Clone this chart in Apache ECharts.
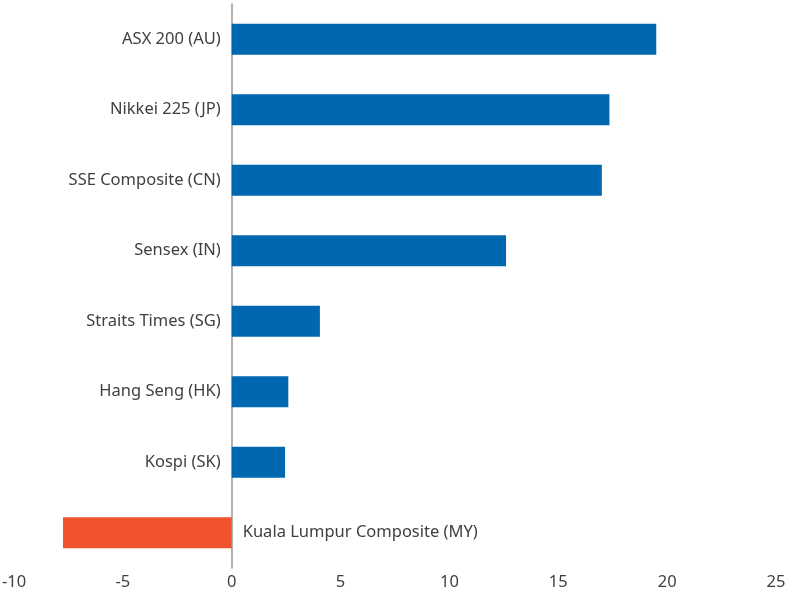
<!DOCTYPE html>
<html>
<head>
<meta charset="utf-8">
<script src="https://cdn.jsdelivr.net/npm/echarts@6/dist/echarts.min.js"></script>
<style>html,body{margin:0;padding:0;background:#fff}#c{width:787px;height:592px}</style>
</head>
<body>
<div id="c"></div>
<script>
const categories = ["ASX 200 (AU)", "Nikkei 225 (JP)", "SSE Composite (CN)", "Sensex (IN)", "Straits Times (SG)", "Hang Seng (HK)", "Kospi (SK)", "Kuala Lumpur Composite (MY)"];
const values = [19.5, 17.35, 17.0, 12.6, 4.05, 2.6, 2.45, -7.75];
const xTicks = { min: -10, max: 25, interval: 5 };

const FONT = "Noto Sans";
const FS = 16.5;
const TXT = '#3f3f3f';
const chart = echarts.init(document.getElementById('c'));
chart.setOption({
  animation: false,
  grid: { left: 14, right: 11, top: 4, bottom: 24, containLabel: false, outerBoundsMode: 'none' },
  xAxis: {
    type: 'value', min: xTicks.min, max: xTicks.max, interval: xTicks.interval,
    axisLine: { show: false }, axisTick: { show: false }, splitLine: { show: false },
    axisLabel: { color: TXT, fontFamily: FONT, fontSize: FS, margin: 6 }
  },
  yAxis: {
    type: 'category', inverse: true, data: categories,
    axisLine: { show: true, onZero: true, lineStyle: { color: '#999', width: 1.5 } },
    axisTick: { show: false },
    axisLabel: { show: false }
  },
  series: [{
    type: 'bar', barWidth: '44%',
    data: values.map(function (v, i) {
      return {
        value: v,
        itemStyle: { color: v < 0 ? '#F0532E' : '#0067B1' },
        label: { show: true, position: v < 0 ? 'right' : 'left', distance: 11, formatter: categories[i], color: TXT, fontFamily: FONT, fontSize: FS }
      };
    })
  }]
});
</script>
</body>
</html>
